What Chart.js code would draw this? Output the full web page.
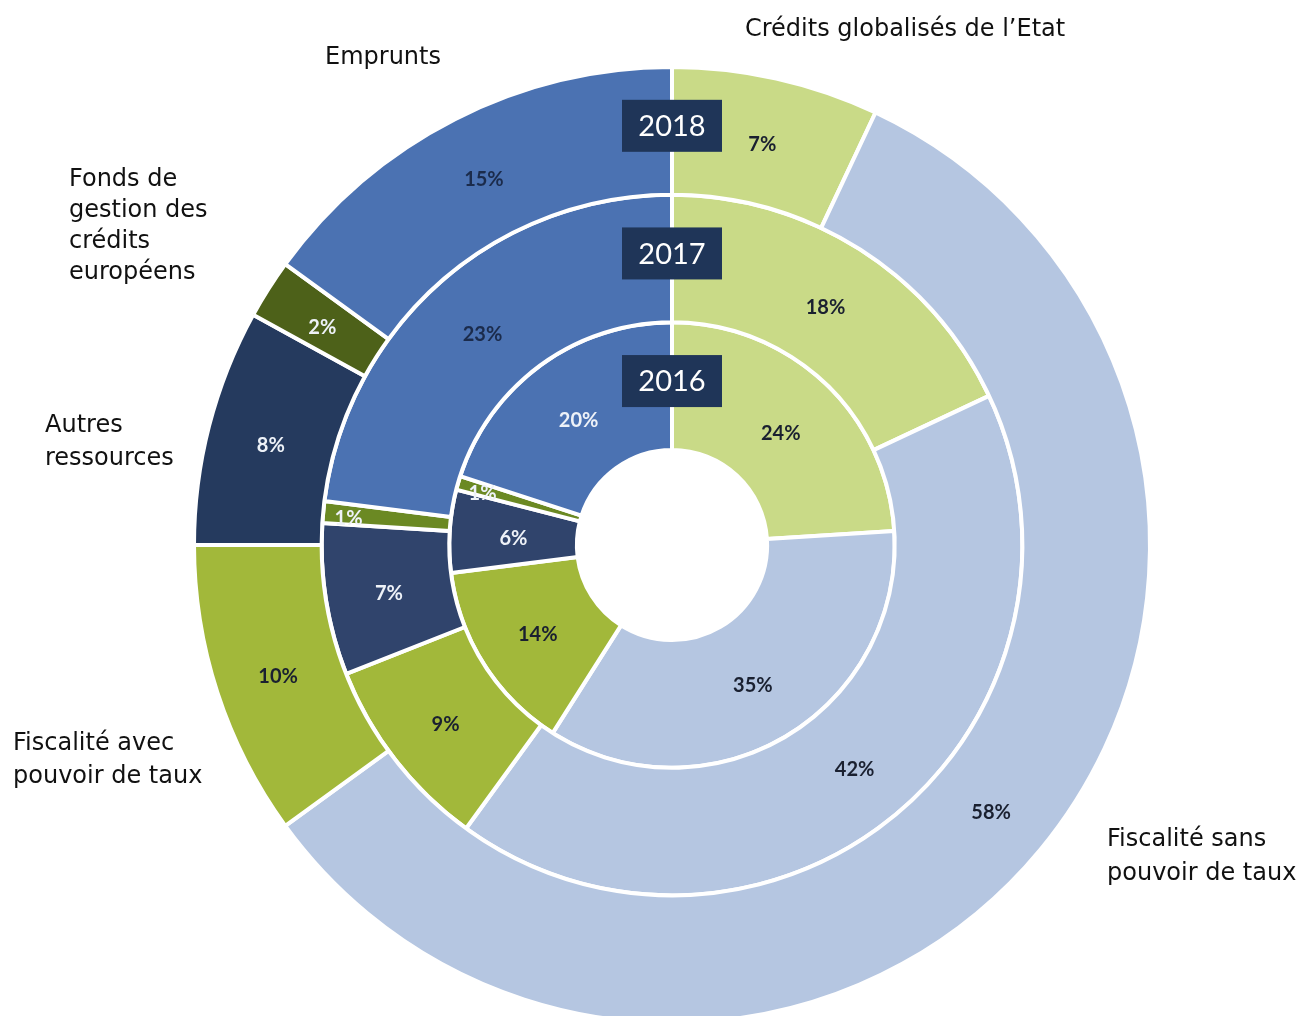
<!DOCTYPE html>
<html lang="fr">
<head>
<meta charset="utf-8">
<title>Structure des ressources 2016-2018</title>
<script src="https://cdn.jsdelivr.net/npm/chart.js"></script>
<style>
  html, body { margin: 0; padding: 0; background: #fff; overflow: hidden; }
  canvas { display: block; }
</style>
</head>
<body>
<canvas id="graphique" width="1298" height="1100"></canvas>
<script>
// les categories, dans l'ordre des aiguilles d'une montre depuis le haut
const categories = [
  "Crédits globalisés de l’Etat",
  "Fiscalité sans pouvoir de taux",
  "Fiscalité avec pouvoir de taux",
  "Autres ressources",
  "Fonds de gestion des crédits européens",
  "Emprunts"
]
// le texte des etiquettes autour du graphique, coupe en lignes
const lignesCategories = [
  ["Crédits globalisés de l’Etat"],
  ["Fiscalité sans", "pouvoir de taux"],
  ["Fiscalité avec", "pouvoir de taux"],
  ["Autres", "ressources"],
  ["Fonds de", "gestion des", "crédits", "européens"],
  ["Emprunts"]
]
const annees = ["2018", "2017", "2016"] // de l'anneau exterieur vers l'interieur
const parts2018 = [7, 58, 10, 8, 2, 15]
const parts2017 = [18, 42, 9, 7, 1, 23]
const parts2016 = [24, 35, 14, 6, 1, 20]

// couleurs des parts (les anneaux interieurs ont des tons un peu differents)
const couleurs2018 = ['#C9DA87', '#B5C6E1', '#A2B83A', '#253A5E', '#4D6119', '#4B72B2']
const couleursAutres = ['#C9DA87', '#B5C6E1', '#A2B83A', '#30446C', '#6B8923', '#4B72B2']
const sombre = '#1A2030'
const clair = '#EEF2F8'

const ctx = document.getElementById('graphique')

// position des etiquettes de categorie (x a gauche, y du milieu de la 1ere ligne, interligne)
const posCategories = [
  { x: 745, y: 30, h: 31 },
  { x: 1107, y: 840, h: 34 },
  { x: 13, y: 744, h: 33 },
  { x: 45, y: 426, h: 33 },
  { x: 69, y: 180, h: 31 },
  { x: 325, y: 58, h: 31 }
]

const pluginTextes = {
  id: 'textes',
  afterDatasetsDraw(chart) {
    const c = chart.ctx
    c.save()
    c.textAlign = 'center'
    c.textBaseline = 'middle'

    // les pourcentages dans chaque part
    chart.data.datasets.forEach((ds, i) => {
      const meta = chart.getDatasetMeta(i)
      meta.data.forEach((arc, j) => {
        const p = arc.getProps(['x', 'y', 'startAngle', 'endAngle', 'innerRadius', 'outerRadius'], true)
        const milieu = (p.startAngle + p.endAngle) / 2
        const k = ds.data[j] < 2 ? 0.8 : 0.5 // les toutes petites parts : texte vers l'exterieur
        const r = p.innerRadius + (p.outerRadius - p.innerRadius) * k
        c.fillStyle = ds.couleurTexte[j]
        c.font = 'bold 20px Lato, "Open Sans", sans-serif'
        c.fillText(ds.data[j] + '%', p.x + Math.cos(milieu) * r, p.y + Math.sin(milieu) * r + 4)
      })
    })

    // les cartouches avec l'annee en haut de chaque anneau
    chart.data.datasets.forEach((ds, i) => {
      const arc = chart.getDatasetMeta(i).data[0]
      const p = arc.getProps(['x', 'y', 'innerRadius', 'outerRadius'], true)
      const cy = p.y - (p.innerRadius + p.outerRadius) / 2 - 5
      c.fillStyle = '#1F3558'
      c.fillRect(p.x - 50, cy - 26, 100, 52)
      c.fillStyle = '#FFFFFF'
      c.font = '29px Lato, "Open Sans", sans-serif'
      c.fillText(ds.label, p.x, cy + 1)
    })

    // les noms des categories autour
    c.textAlign = 'left'
    c.fillStyle = '#111111'
    c.font = '24px "DejaVu Sans", Verdana, sans-serif'
    lignesCategories.forEach((lignes, i) => {
      const pos = posCategories[i]
      lignes.forEach((t, n) => c.fillText(t, pos.x, pos.y + n * pos.h))
    })
    c.restore()
  }
}

new Chart(ctx, {
  type: 'doughnut',
  data: {
    labels: categories,
    datasets: [
      { label: annees[0], data: parts2018, backgroundColor: couleurs2018,
        couleurTexte: [sombre, sombre, sombre, clair, clair, '#1B2B4B'] },
      { label: annees[1], data: parts2017, backgroundColor: couleursAutres,
        couleurTexte: [sombre, sombre, sombre, clair, clair, '#1B2B4B'] },
      { label: annees[2], data: parts2016, backgroundColor: couleursAutres,
        couleurTexte: [sombre, sombre, sombre, clair, clair, clair] }
    ]
  },
  options: {
    responsive: false,
    animation: false,
    radius: 478,
    cutout: '19.9%',
    layout: { padding: { left: 150, right: 104, top: 40, bottom: 50 } },
    elements: { arc: { borderColor: '#FFFFFF', borderWidth: 4, hoverOffset: 0 } },
    plugins: {
      legend: { display: false },
      tooltip: { enabled: false }
    }
  },
  plugins: [pluginTextes]
})
</script>
</body>
</html>
